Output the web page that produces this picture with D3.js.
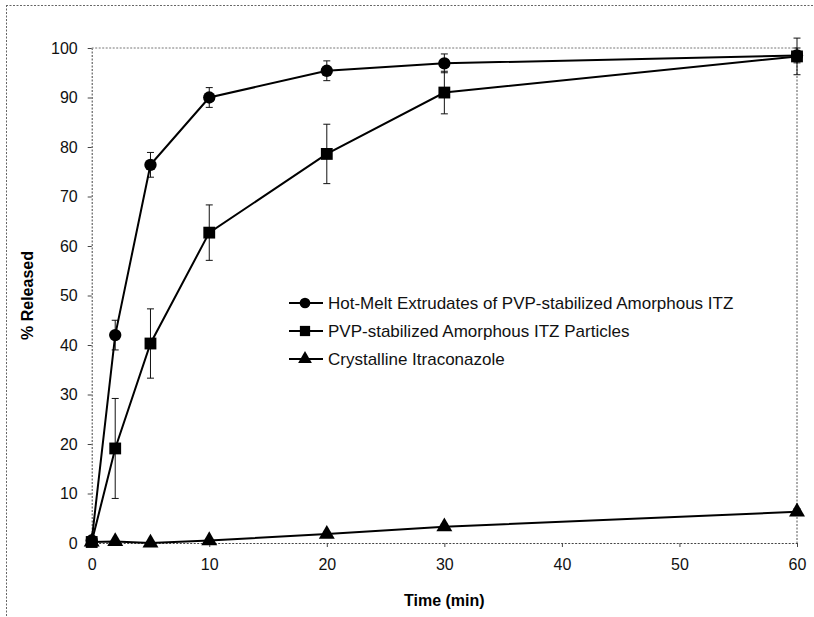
<!DOCTYPE html>
<html><head><meta charset="utf-8">
<script src="https://cdn.jsdelivr.net/npm/d3@7"></script>
<style>body{margin:0;background:#fff}svg{display:block;font-family:Arial,"Liberation Sans",sans-serif}</style>
</head><body><svg id="c" width="814" height="617"></svg>
<script>
const times = [0, 2, 5, 10, 20, 30, 60];
const hmeMean = [0.5, 42.0, 76.4, 90.0, 95.4, 96.9, 98.5];
const hmeErr  = [0.5, 3.0, 2.5, 2.0, 2.0, 1.9, 1.5];
const ppMean  = [0.2, 19.1, 40.3, 62.7, 78.6, 91.0, 98.3];
const ppErr   = [0.3, 10.1, 7.0, 5.6, 6.0, 4.3, 3.7];
const crMean  = [0.2, 0.3, 0.0, 0.5, 1.8, 3.3, 6.3];
const crErr   = [0.2, 0.2, 0.2, 0.3, 0.4, 0.5, 0.6];
const seriesNames = ["Hot-Melt Extrudates of PVP-stabilized Amorphous ITZ", "PVP-stabilized Amorphous ITZ Particles", "Crystalline Itraconazole"];
const seriesSymbols = ["circle", "square", "triangle"];
const xTicks = [0, 10, 20, 30, 40, 50, 60];
const yTicks = [0, 10, 20, 30, 40, 50, 60, 70, 80, 90, 100];
const xTitle = "Time (min)";
const yTitle = "% Released";

const svg = d3.select("#c");
const L = 91.7, R = 797, T = 48, B = 543;
const x = d3.scaleLinear().domain([0, 60]).range([L, R]);
const y = d3.scaleLinear().domain([0, 100]).range([B, T]);
const axCol = "#444", dash = "2,1.5";

// outer page border (top, left)
svg.append("line").attr("x1", 6).attr("x2", 814).attr("y1", 5.5).attr("y2", 5.5).attr("stroke", "#666").attr("stroke-dasharray", dash);
svg.append("line").attr("x1", 6.5).attr("x2", 6.5).attr("y1", 5).attr("y2", 617).attr("stroke", "#666").attr("stroke-dasharray", dash);

// plot border top/right
svg.append("line").attr("x1", L).attr("x2", R).attr("y1", T).attr("y2", T).attr("stroke", "#777").attr("stroke-dasharray", dash);
svg.append("line").attr("x1", R).attr("x2", R).attr("y1", T).attr("y2", B).attr("stroke", "#555").attr("stroke-dasharray", dash);

// axes
const gx = svg.append("g").attr("transform", `translate(0,${B})`)
  .call(d3.axisBottom(x).tickValues(xTicks).tickSize(4).tickPadding(12).tickSizeOuter(0));
const gy = svg.append("g").attr("transform", `translate(${L},0)`)
  .call(d3.axisLeft(y).tickValues(yTicks).tickSize(4).tickPadding(10).tickSizeOuter(0));
[gx, gy].forEach(g => {
  g.select(".domain").attr("stroke", axCol).attr("stroke-dasharray", dash);
  g.selectAll(".tick line").attr("stroke", axCol);
  g.selectAll(".tick text").attr("font-size", 16).attr("fill", "#111").attr("font-family", "Arial,'Liberation Sans',sans-serif");
});

svg.append("text").attr("x", (L + R) / 2).attr("y", 606).attr("text-anchor", "middle")
  .attr("font-size", 16).attr("font-weight", "bold").text(xTitle);
svg.append("text").attr("transform", `translate(33,${(T + B) / 2}) rotate(-90)`).attr("text-anchor", "middle")
  .attr("font-size", 16).attr("font-weight", "bold").text(yTitle);

const symMap = {circle: d3.symbolCircle, square: d3.symbolSquare, triangle: d3.symbolTriangle};
const symSize = {circle: 120, square: 140, triangle: 110};
const series = [
  {mean: hmeMean, err: hmeErr, sym: seriesSymbols[0]},
  {mean: ppMean, err: ppErr, sym: seriesSymbols[1]},
  {mean: crMean, err: crErr, sym: seriesSymbols[2]}
];
const line = d3.line().x(d => x(d.t)).y(d => y(d.v));
series.forEach(s => {
  const pts = times.map((t, i) => ({t, v: s.mean[i], e: s.err[i]}));
  const g = svg.append("g");
  // error bars
  pts.forEach(p => {
    const cx = x(p.t), y1 = y(p.v + p.e), y2 = y(p.v - p.e);
    g.append("line").attr("x1", cx).attr("x2", cx).attr("y1", y1).attr("y2", y2).attr("stroke", "#111").attr("stroke-width", 1);
    [y1, y2].forEach(yy => g.append("line").attr("x1", cx - 3.5).attr("x2", cx + 3.5).attr("y1", yy).attr("y2", yy).attr("stroke", "#111").attr("stroke-width", 1));
  });
  g.append("path").datum(pts).attr("d", line).attr("fill", "none").attr("stroke", "#000").attr("stroke-width", 2);
  g.selectAll("path.m").data(pts).enter().append("path").attr("class", "m")
    .attr("transform", d => `translate(${x(d.t)},${y(d.v)})`)
    .attr("d", d3.symbol().type(symMap[s.sym]).size(symSize[s.sym])).attr("fill", "#000");
});

// legend
const legY = [303, 331, 359];
const lg = svg.append("g");
seriesNames.forEach((n, i) => {
  lg.append("line").attr("x1", 289).attr("x2", 323).attr("y1", legY[i]).attr("y2", legY[i]).attr("stroke", "#000").attr("stroke-width", 2);
  lg.append("path").attr("transform", `translate(305,${legY[i]})`)
    .attr("d", d3.symbol().type(symMap[seriesSymbols[i]]).size(symSize[seriesSymbols[i]] * 0.75)).attr("fill", "#000");
  lg.append("text").attr("x", 328).attr("y", legY[i]).attr("dy", "0.36em").attr("font-size", 17).attr("fill", "#111").text(n);
});
</script></body></html>
